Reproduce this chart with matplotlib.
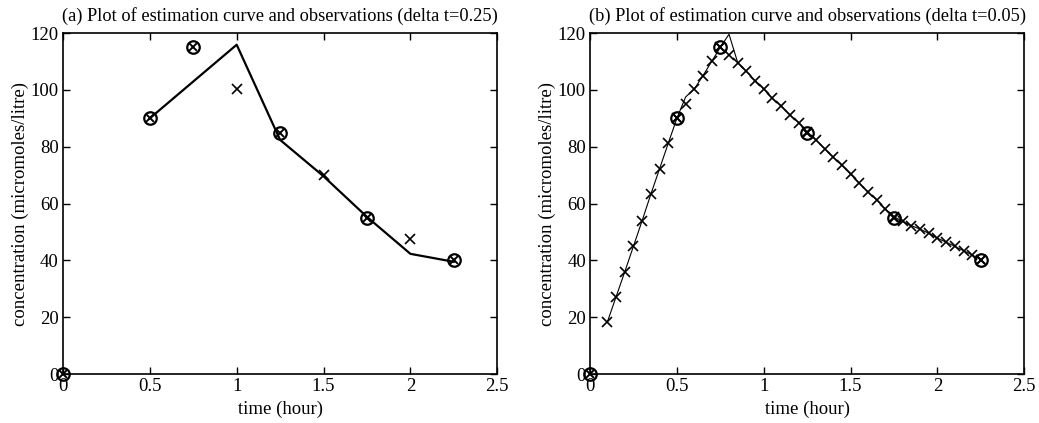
"""Estimation curve vs observations for two step sizes (delta t = 0.25 and 0.05)."""

import matplotlib.pyplot as plt
import numpy as np

plt.rcParams["font.family"] = ["Liberation Serif", "DejaVu Serif"]

# observations (circle + cross), same in both panels
obs_t = [0.0, 0.5, 0.75, 1.25, 1.75, 2.25]
obs_c = [0.0, 90.0, 115.0, 85.0, 55.0, 40.0]

# panel (a): delta t = 0.25
est_a_t = [1.0, 1.5, 2.0]
est_a_c = [100.3, 69.9, 47.4]
curve_a_t = [0.5, 1.0, 1.25, 1.5, 1.75, 2.0, 2.25]
curve_a_c = [90.0, 115.9, 82.4, 69.6, 55.3, 42.3, 39.5]

# panel (b): delta t = 0.05
est_b_t = [0.1, 0.15, 0.2, 0.25, 0.3, 0.35, 0.4, 0.45, 0.5, 0.55, 0.6, 0.65,
           0.7, 0.75, 0.8, 0.85, 0.9, 0.95, 1.0, 1.05, 1.1, 1.15, 1.2, 1.25,
           1.3, 1.35, 1.4, 1.45, 1.5, 1.55, 1.6, 1.65, 1.7, 1.75, 1.8, 1.85,
           1.9, 1.95, 2.0, 2.05, 2.1, 2.15, 2.2, 2.25]
est_b_c = [18.4, 27.2, 36.0, 45.0, 54.0, 63.3, 72.2, 81.2, 90.0, 95.0, 100.3,
           105.0, 110.0, 115.0, 112.4, 109.4, 106.5, 103.3, 100.3, 97.0, 94.4,
           91.2, 88.5, 85.1, 82.4, 79.3, 76.3, 73.4, 70.3, 67.2, 64.0, 61.3,
           58.1, 55.4, 53.9, 52.2, 51.0, 49.5, 47.8, 46.4, 44.9, 43.4, 41.9,
           40.2]
curve_b_t = est_b_t
curve_b_c = [18.4, 27.2, 36.0, 45.0, 54.0, 63.3, 72.2, 81.2, 90.0, 97.5, 100.3,
             105.0, 110.0, 115.0, 119.6, 109.6, 106.5, 103.3, 100.3, 97.0, 94.4,
             91.2, 88.5, 85.1, 82.4, 79.3, 76.3, 73.4, 70.3, 67.2, 64.0, 61.3,
             58.1, 55.4, 53.6, 52.2, 51.0, 49.5, 47.8, 46.4, 44.9, 43.4, 41.9,
             40.2]

panels = [
    ("(a) Plot of estimation curve and observations (delta t=0.25)",
     curve_a_t, curve_a_c, est_a_t, est_a_c, 1.6),
    ("(b) Plot of estimation curve and observations (delta t=0.05)",
     curve_b_t, curve_b_c, est_b_t, est_b_c, 0.8),
]

fig = plt.figure(figsize=(10.39, 4.23), dpi=100)
lefts = [0.0606, 0.5679]

for left, (title, ct, cc, et, ec, lw) in zip(lefts, panels):
    ax = fig.add_axes([left, 0.1158, 0.418, 0.806])
    ax.plot(ct, cc, color="black", linewidth=lw)
    ax.plot(et, ec, linestyle="none", marker="x", color="black",
            markersize=6.5, markeredgewidth=1.2)
    ax.plot(obs_t, obs_c, linestyle="none", marker="o", markerfacecolor="none",
            markeredgecolor="black", markersize=9, markeredgewidth=1.6, clip_on=False)
    ax.plot(obs_t, obs_c, linestyle="none", marker="x", color="black",
            markersize=6, markeredgewidth=1.4, clip_on=False)

    ax.set_xlim(0, 2.5)
    ax.set_ylim(0, 120)
    ax.set_xticks(np.arange(0, 2.51, 0.5))
    ax.set_xticklabels(["0", "0.5", "1", "1.5", "2", "2.5"])
    ax.set_yticks(np.arange(0, 121, 20))
    ax.tick_params(direction="in", top=True, right=True, length=5, width=1,
                   labelsize=13.5, pad=3)
    for sp in ax.spines.values():
        sp.set_linewidth(1.2)
    ax.set_title(title, fontsize=13.2, pad=9)
    ax.set_xlabel("time (hour)", fontsize=13.5, labelpad=4)
    ax.set_ylabel("concentration (micromoles/litre)", fontsize=13.5, labelpad=1)

fig.savefig("out.png", dpi=100)
